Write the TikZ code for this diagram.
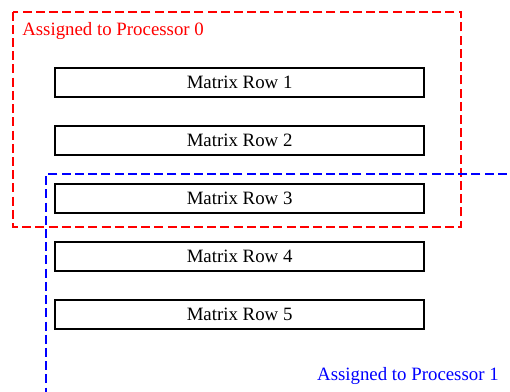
\documentclass[tikz,border=0pt]{standalone}
\usepackage{fontspec}
\setmainfont{Liberation Serif}
\begin{document}
\begin{tikzpicture}[every node/.style={font=\fontsize{13.4}{16}\selectfont},
    rowbox/.style={draw, line width=1.3pt, minimum width=9.225cm, minimum height=0.74cm, inner sep=0pt},
    procline/.style={line width=1.3pt, dash pattern=on 6.4pt off 3pt}]
  \useasboundingbox (0,0) rectangle (12.75,-9.775);
  \clip (0,0) rectangle (12.75,-9.775);
  % matrix rows
  \foreach \i in {1,...,5} {
    \node[rowbox] (row\i) at (5.99,{-2.06-1.45*(\i-1)}) {Matrix Row \i};
  }
  % processor 0
  \draw[procline, red] (0.325,-0.29) rectangle (11.525,-5.675);
  \node[red, anchor=base west, inner sep=0pt] (proc0) at (0.55,-0.89) {Assigned to Processor 0};
  % processor 1 (runs off the picture)
  \draw[procline, blue] (13,-4.36) -- (1.15,-4.36) -- (1.15,-10);
  \node[blue, anchor=base east, inner sep=0pt] (proc1) at (12.475,-9.5) {Assigned to Processor 1};
\end{tikzpicture}
\end{document}
